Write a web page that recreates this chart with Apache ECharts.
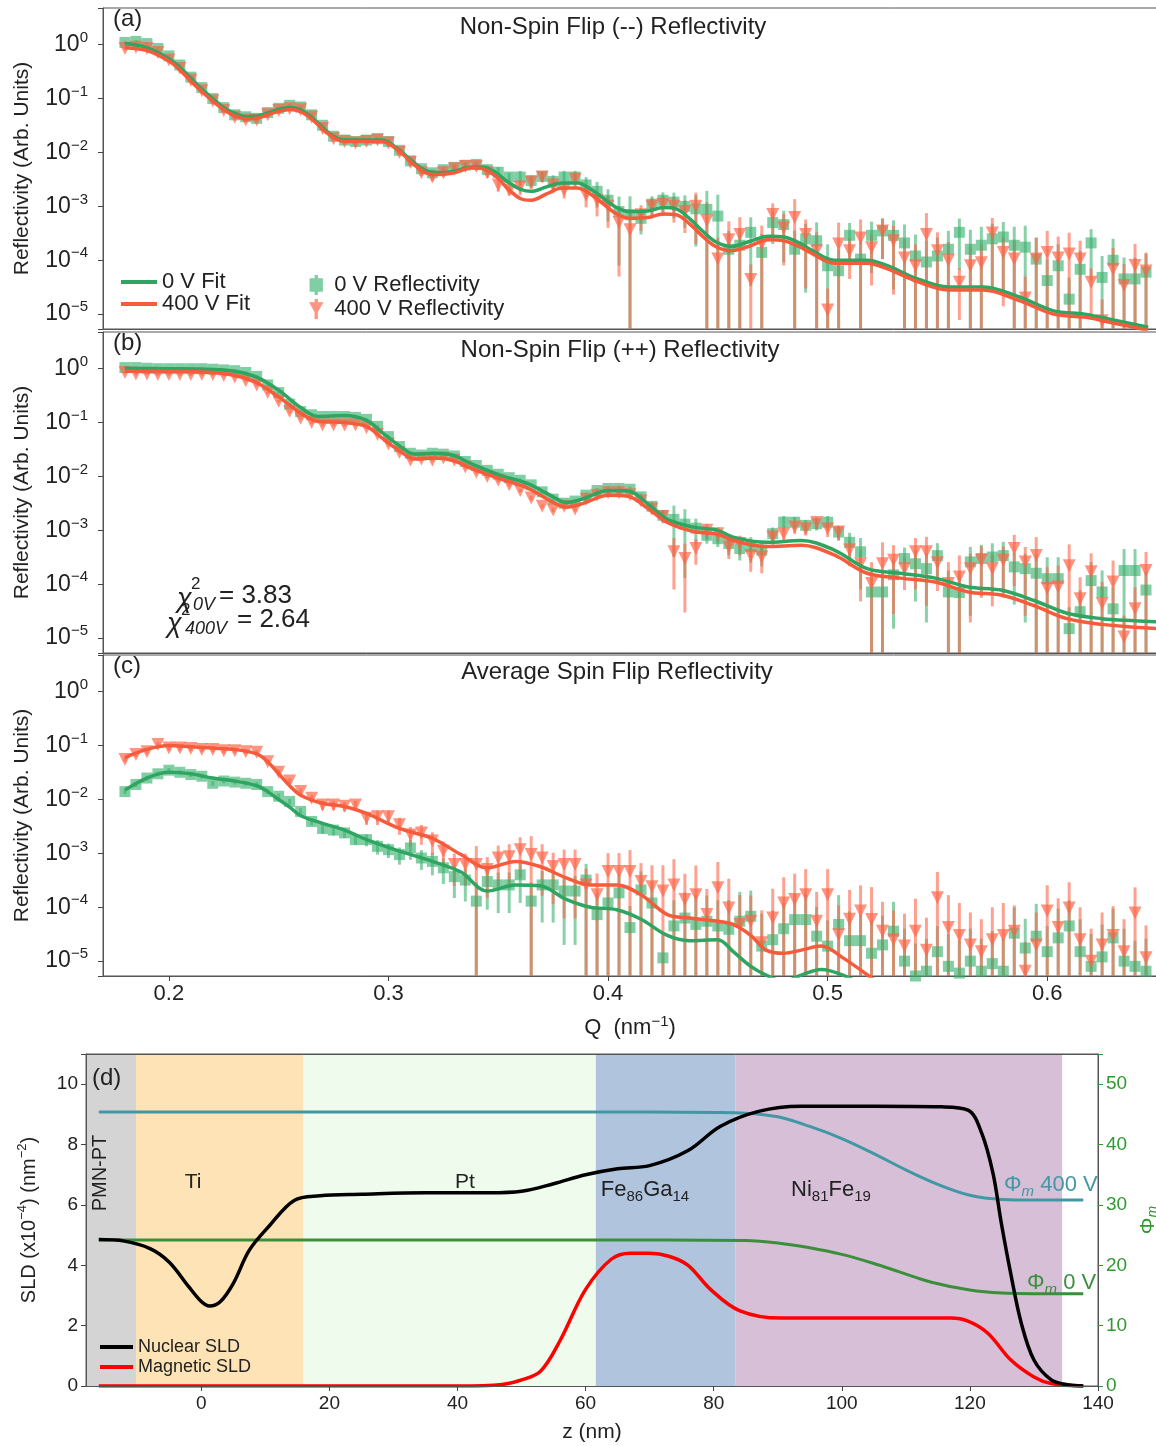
<!DOCTYPE html>
<html>
<head>
<meta charset="utf-8">
<script src="https://cdn.jsdelivr.net/npm/echarts@6/dist/echarts.min.js"></script>
<style>
  html, body { margin: 0; background: #fff; }
  #chart { width: 1156px; height: 1446px; }
</style>
</head>
<body>
<div id="chart"></div>
<script>
// Q grid shared by all three reflectivity panels (nm^-1)
const qData = [
  0.180, 0.185, 0.190, 0.195, 0.200, 0.205, 0.210, 0.215, 0.220, 0.225,
  0.230, 0.235, 0.240, 0.245, 0.250, 0.255, 0.260, 0.265, 0.270, 0.275,
  0.280, 0.285, 0.290, 0.295, 0.300, 0.305, 0.310, 0.315, 0.320, 0.325,
  0.330, 0.335, 0.340, 0.345, 0.350, 0.355, 0.360, 0.365, 0.370, 0.375,
  0.380, 0.385, 0.390, 0.395, 0.400, 0.405, 0.410, 0.415, 0.420, 0.425,
  0.430, 0.435, 0.440, 0.445, 0.450, 0.455, 0.460, 0.465, 0.470, 0.475,
  0.480, 0.485, 0.490, 0.495, 0.500, 0.505, 0.510, 0.515, 0.520, 0.525,
  0.530, 0.535, 0.540, 0.545, 0.550, 0.555, 0.560, 0.565, 0.570, 0.575,
  0.580, 0.585, 0.590, 0.595, 0.600, 0.605, 0.610, 0.615, 0.620, 0.625,
  0.630, 0.635, 0.640, 0.645
];

// (a) non spin flip (--)
const refA0 = [
  1.1, 1.15, 1.05, 0.85, 0.62, 0.42, 0.25, 0.16, 0.1, 0.068,
  0.05, 0.046, 0.043, 0.055, 0.066, 0.075, 0.07, 0.05, 0.032, 0.02,
  0.017, 0.016, 0.017, 0.018, 0.016, 0.011, 0.007, 0.005, 0.0042, 0.0048,
  0.0053, 0.0058, 0.006, 0.0048, 0.0043, 0.0035, 0.0035, 0.003, 0.0036, 0.0029,
  0.0035, 0.0035, 0.0025, 0.0019, 0.0013, 0.0008, 0.0007, 0.0006, 0.0011, 0.0013,
  0.0012, 0.001, 0.0009, 0.00088, 0.00066, 1.6e-4, 1.9e-4, 3.3e-4, 1.4e-4, 5e-4,
  4.6e-4, 1.6e-4, 2.5e-4, 2.3e-4, 7.9e-5, 6.4e-5, 2.9e-4, 1.05e-4, 2.9e-4, 3.5e-4,
  2.9e-4, 2.1e-4, 1.2e-4, 9.3e-5, 1.2e-4, 1.6e-4, 3.3e-4, 1.6e-4, 1.9e-4, 2.5e-4,
  2.7e-4, 1.9e-4, 1.75e-4, 1.05e-4, 4.2e-5, 7.9e-5, 1.9e-5, 6.8e-5, 2.1e-4, 4.8e-5,
  1e-4, 4.5e-5, 4.5e-5, 6e-5
];
const refA400 = [
  0.85, 0.9, 0.85, 0.72, 0.52, 0.36, 0.22, 0.14, 0.09, 0.06,
  0.045, 0.04, 0.04, 0.05, 0.06, 0.065, 0.062, 0.045, 0.028, 0.018,
  0.016, 0.015, 0.016, 0.017, 0.015, 0.01, 0.0065, 0.0042, 0.0035, 0.0042,
  0.005, 0.0055, 0.0055, 0.0042, 0.0025, 0.002, 0.0023, 0.0028, 0.0035, 0.0025,
  0.002, 0.0032, 0.0016, 0.0013, 0.001, 0.0005, 0.00037, 0.0007, 0.001, 0.0011,
  0.001, 0.0008, 0.001, 0.00054, 1.05e-4, 2.4e-4, 3e-4, 4.4e-5, 2e-4, 7.1e-4,
  4e-4, 6.2e-4, 3e-4, 1.5e-4, 1.2e-5, 2e-4, 1.5e-4, 2.6e-4, 1.7e-4, 3.5e-4,
  2.3e-4, 1.1e-4, 7.9e-5, 3e-4, 1.5e-4, 1e-4, 3.9e-5, 7.9e-5, 9e-5, 3.2e-4,
  1.4e-4, 1.05e-4, 2e-5, 1.05e-4, 1.4e-4, 1.1e-4, 1.3e-4, 1.05e-4, 3.9e-5, 7.5e-6,
  6.8e-5, 3.4e-5, 8e-5, 6.3e-5
];
// relative error (sigma / R)
const errA = [
  0.06, 0.06, 0.06, 0.06, 0.06, 0.06, 0.06, 0.06, 0.06, 0.06,
  0.07, 0.07, 0.07, 0.07, 0.07, 0.07, 0.07, 0.07, 0.08, 0.08,
  0.08, 0.08, 0.08, 0.08, 0.1, 0.1, 0.12, 0.12, 0.15, 0.15,
  0.15, 0.15, 0.15, 0.2, 0.25, 0.2, 0.3, 0.25, 0.2, 0.3,
  0.3, 0.3, 0.4, 0.5, 0.6, 0.9, 1.2, 0.5, 0.4, 0.4,
  0.5, 0.6, 0.8, 1.2, 1.5, 1.2, 1.1, 0.9, 1.2, 0.6,
  0.8, 1.2, 0.9, 1.2, 1.5, 1.5, 0.7, 1.2, 0.8, 0.7,
  0.9, 1.2, 1.5, 1.5, 1.2, 1.2, 0.8, 1.3, 1.2, 0.9,
  0.9, 1.2, 1.5, 1.5, 1.5, 1.5, 1.5, 1.2, 0.8, 1.5,
  1.5, 1.5, 1.5, 1.2
];
const fitQA = [
  0.18, 0.19, 0.2, 0.205, 0.21, 0.215, 0.22, 0.225, 0.23, 0.235,
  0.24, 0.245, 0.25, 0.255, 0.26, 0.265, 0.27, 0.275, 0.28, 0.29,
  0.297, 0.305, 0.311, 0.317, 0.323, 0.33, 0.338, 0.343, 0.349, 0.354,
  0.36, 0.365, 0.372, 0.379, 0.386, 0.392, 0.398, 0.404, 0.41, 0.418,
  0.425, 0.431, 0.437, 0.443, 0.449, 0.456, 0.464, 0.473, 0.48, 0.487,
  0.492, 0.503, 0.518, 0.527, 0.541, 0.555, 0.571, 0.587, 0.603, 0.617,
  0.629, 0.646
];
const fitA0 = [
  1.05, 0.88, 0.55, 0.38, 0.24, 0.15, 0.1, 0.068, 0.053, 0.046,
  0.047, 0.054, 0.063, 0.068, 0.062, 0.045, 0.029, 0.02, 0.017, 0.017,
  0.017, 0.011, 0.0068, 0.0046, 0.0042, 0.0045, 0.0054, 0.0054, 0.0042, 0.0029,
  0.0021, 0.0019, 0.0023, 0.0027, 0.0027, 0.0021, 0.0014, 0.00095, 0.0008, 0.00082,
  0.00095, 0.0009, 0.0006, 0.00035, 0.00022, 0.00018, 0.00022, 0.00028, 0.00027, 0.00021,
  0.00016, 1e-4, 1e-4, 8e-5, 4.5e-5, 3.2e-5, 3.2e-5, 2.1e-5, 1.15e-5, 1e-5,
  8e-6, 5.7e-6
];
const fitA400 = [
  0.88, 0.78, 0.5, 0.34, 0.21, 0.135, 0.09, 0.062, 0.048, 0.042,
  0.043, 0.05, 0.058, 0.063, 0.057, 0.042, 0.027, 0.019, 0.016, 0.016,
  0.016, 0.0105, 0.0063, 0.0042, 0.0039, 0.0042, 0.0052, 0.005, 0.0036, 0.0022,
  0.0014, 0.0013, 0.0017, 0.0022, 0.0022, 0.0017, 0.0011, 0.00072, 0.0006, 0.00062,
  0.00072, 0.0007, 0.00048, 0.00028, 0.00018, 0.00015, 0.00018, 0.00024, 0.00023, 0.00018,
  0.00014, 8.8e-5, 8.8e-5, 7e-5, 4e-5, 2.8e-5, 2.8e-5, 1.8e-5, 1e-5, 8.8e-6,
  7e-6, 5e-6
];

// (b) non spin flip (++)
const refB0 = [
  1.05, 1.05, 1.02, 1.0, 1.0, 1.0, 1.0, 1.0, 0.98, 0.95,
  0.92, 0.85, 0.72, 0.5, 0.36, 0.22, 0.16, 0.14, 0.13, 0.13,
  0.13, 0.125, 0.115, 0.085, 0.055, 0.036, 0.027, 0.025, 0.027, 0.026,
  0.024, 0.019, 0.016, 0.013, 0.011, 0.0095, 0.0085, 0.007, 0.0052, 0.0038,
  0.0032, 0.0035, 0.0045, 0.0055, 0.006, 0.006, 0.0058, 0.0042, 0.0028, 0.0019,
  0.0016, 0.0013, 0.0011, 8.1e-4, 7e-4, 5.7e-4, 4.6e-4, 5e-4, 4.3e-4, 8.7e-4,
  1.42e-3, 1.42e-3, 1.24e-3, 1.33e-3, 1.42e-3, 9.3e-4, 6e-4, 4e-4, 7.2e-5, 7.2e-5,
  1.5e-4, 3e-4, 2.4e-4, 1.95e-4, 3.4e-4, 7.2e-5, 7e-5, 2.6e-4, 3e-4, 3.2e-4,
  3.4e-4, 2.1e-4, 1.95e-4, 1.6e-4, 1.27e-4, 1.27e-4, 1.5e-5, 3.1e-5, 1.17e-4, 7.2e-5,
  3.5e-5, 1.8e-4, 1.8e-4, 7.8e-5
];
const refB400 = [
  0.85, 0.8, 0.8, 0.78, 0.78, 0.78, 0.78, 0.78, 0.78, 0.75,
  0.7, 0.6, 0.5, 0.36, 0.25, 0.16, 0.12, 0.1, 0.09, 0.09,
  0.09, 0.09, 0.08, 0.06, 0.04, 0.028, 0.02, 0.021, 0.02, 0.022,
  0.02, 0.015, 0.012, 0.01, 0.0085, 0.007, 0.0055, 0.004, 0.0028, 0.0024,
  0.0028, 0.0025, 0.0038, 0.0045, 0.005, 0.005, 0.0046, 0.0035, 0.0025, 0.0018,
  4e-4, 3e-4, 4.6e-4, 1e-3, 8.7e-4, 4.9e-4, 5.7e-4, 3.4e-4, 3.2e-4, 7.5e-4,
  8.7e-4, 1.15e-3, 1.07e-3, 1.4e-3, 1.07e-3, 9.3e-4, 4.3e-4, 2.4e-4, 1.03e-4, 2.4e-4,
  2.8e-4, 1.95e-4, 4e-4, 4e-4, 2.5e-4, 1.03e-4, 1.37e-4, 1.95e-4, 2.8e-4, 1.95e-4,
  2.8e-4, 4.6e-4, 2.6e-4, 3.4e-4, 8.3e-5, 8.9e-5, 2.2e-4, 5.4e-5, 1.7e-4, 4.4e-5,
  1.1e-4, 1.05e-5, 3.5e-5, 1.8e-4
];
const errB = [
  0.05, 0.05, 0.05, 0.05, 0.05, 0.05, 0.05, 0.05, 0.05, 0.05,
  0.05, 0.05, 0.05, 0.05, 0.05, 0.05, 0.05, 0.05, 0.05, 0.05,
  0.05, 0.05, 0.05, 0.05, 0.05, 0.05, 0.05, 0.05, 0.05, 0.05,
  0.06, 0.06, 0.06, 0.07, 0.07, 0.07, 0.08, 0.08, 0.08, 0.1,
  0.1, 0.1, 0.1, 0.1, 0.1, 0.12, 0.12, 0.15, 0.2, 0.25,
  0.8, 0.9, 0.5, 0.3, 0.3, 0.4, 0.4, 0.5, 0.5, 0.3,
  0.3, 0.25, 0.25, 0.25, 0.3, 0.3, 0.5, 0.8, 1.5, 1.5,
  0.9, 0.6, 0.8, 0.9, 0.7, 1.5, 1.5, 0.9, 0.8, 0.8,
  0.8, 0.8, 0.9, 1.2, 1.5, 1.5, 1.5, 1.5, 1.2, 1.5,
  1.5, 1.5, 1.5, 1.2
];
const fitQB = [
  0.18, 0.2, 0.22, 0.23, 0.24, 0.25, 0.26, 0.268, 0.28, 0.29,
  0.297, 0.305, 0.312, 0.32, 0.329, 0.338, 0.351, 0.363, 0.375, 0.381,
  0.389, 0.4, 0.409, 0.419, 0.427, 0.439, 0.45, 0.457, 0.472, 0.488,
  0.503, 0.518, 0.533, 0.549, 0.564, 0.579, 0.594, 0.609, 0.625, 0.64,
  0.65
];
const fitB0 = [
  1.02, 1.0, 0.97, 0.9, 0.7, 0.4, 0.19, 0.13, 0.135, 0.11,
  0.066, 0.037, 0.026, 0.027, 0.025, 0.017, 0.0105, 0.0075, 0.0042, 0.0033,
  0.0039, 0.0055, 0.0054, 0.0029, 0.0016, 0.00115, 0.001, 0.00075, 0.0006, 0.00065,
  0.00043, 1.95e-4, 1.6e-4, 1.3e-4, 8.9e-5, 7.8e-5, 5e-5, 2.9e-5, 2.3e-5, 2.1e-5,
  2e-5
];
const fitB400 = [
  0.9, 0.9, 0.85, 0.75, 0.55, 0.3, 0.15, 0.105, 0.1, 0.085,
  0.052, 0.03, 0.021, 0.022, 0.02, 0.014, 0.009, 0.0062, 0.0033, 0.0027,
  0.0032, 0.0045, 0.0043, 0.0024, 0.0014, 0.00095, 0.00085, 0.00065, 0.0005, 0.00053,
  0.00035, 1.6e-4, 1.3e-4, 1.1e-4, 7.2e-5, 6.3e-5, 4e-5, 2.3e-5, 1.8e-5, 1.6e-5,
  1.5e-5
];

// (c) average spin flip
const refC0 = [
  0.014, 0.019, 0.025, 0.03, 0.035, 0.032, 0.029, 0.027, 0.02, 0.022,
  0.021, 0.02, 0.019, 0.014, 0.0115, 0.0092, 0.006, 0.0039, 0.0029, 0.0027,
  0.0024, 0.0018, 0.0018, 0.00135, 0.00117, 0.00095, 0.00126, 0.00082, 0.00071, 0.00054,
  3.7e-4, 3.2e-4, 1.3e-4, 3e-4, 2.6e-4, 2.6e-4, 4e-4, 1.3e-4, 2.6e-4, 2.6e-4,
  2e-4, 2e-4, 3.2e-4, 7.3e-5, 1.2e-4, 1.85e-4, 4.2e-5, 2.1e-4, 1.2e-4, 1.15e-5,
  4.5e-5, 6.3e-5, 4.8e-5, 5.5e-5, 4.5e-5, 3.9e-5, 5.5e-5, 6.8e-5, 1.9e-5, 2.5e-5,
  4e-5, 5.9e-5, 5.9e-5, 2.9e-5, 1.9e-5, 4.8e-5, 2.4e-5, 2.4e-5, 1.4e-5, 2e-5,
  3.6e-5, 1e-5, 5.3e-6, 6.5e-6, 1.5e-5, 8e-6, 6e-6, 1e-5, 6.5e-6, 9e-6,
  6.5e-6, 3.3e-5, 1.75e-5, 2.9e-5, 1.5e-5, 2.7e-5, 4.5e-5, 1.5e-5, 8e-6, 1.2e-5,
  2.7e-5, 1e-5, 8e-6, 6.5e-6
];
const refC400 = [
  0.055, 0.068, 0.077, 0.105, 0.09, 0.09, 0.088, 0.085, 0.085, 0.08,
  0.08, 0.077, 0.075, 0.05, 0.032, 0.022, 0.014, 0.0105, 0.0079, 0.0079,
  0.0075, 0.0079, 0.0045, 0.0048, 0.0048, 0.0034, 0.0022, 0.0024, 0.0017, 0.0011,
  6.2e-4, 6.2e-4, 6.2e-4, 5e-4, 8.2e-4, 8.7e-4, 1.17e-3, 9.5e-4, 8.2e-4, 5.7e-4,
  6.2e-4, 6.2e-4, 2.6e-4, 1.7e-4, 4.6e-4, 4.6e-4, 4.6e-4, 3e-4, 2.4e-4, 2e-4,
  2.6e-4, 1.4e-4, 1.7e-4, 7.3e-5, 2.3e-4, 9.7e-5, 4.8e-5, 5.5e-5, 2.2e-5, 6.3e-5,
  1.2e-4, 1.4e-4, 1.7e-4, 5.5e-5, 1.7e-4, 3.1e-5, 6e-5, 8.5e-5, 5.9e-5, 3.6e-5,
  2.5e-5, 1.9e-5, 3.6e-5, 1.6e-5, 1.5e-4, 4.2e-5, 3e-5, 2e-5, 1.5e-5, 2.5e-5,
  3e-5, 3.6e-5, 6.5e-6, 2e-5, 8.5e-5, 4.2e-5, 9.7e-5, 2.5e-5, 1e-5, 2e-5,
  3e-5, 1.5e-5, 7.8e-5, 1.15e-5
];
const errC = [
  0.1, 0.1, 0.1, 0.1, 0.1, 0.1, 0.1, 0.1, 0.1, 0.1,
  0.1, 0.1, 0.1, 0.1, 0.12, 0.12, 0.15, 0.15, 0.2, 0.2,
  0.2, 0.2, 0.25, 0.3, 0.3, 0.35, 0.4, 0.4, 0.45, 0.5,
  0.6, 0.6, 1.2, 0.7, 0.7, 0.7, 0.7, 1.2, 0.8, 0.8,
  0.9, 0.9, 1.0, 1.5, 1.2, 1.2, 1.5, 1.2, 1.5, 2,
  2, 2, 2.5, 2, 2, 2.5, 2.5, 2, 3, 2.5,
  2, 2, 2, 2.5, 2, 2.5, 2.5, 2, 3, 2.5,
  2.5, 3, 3, 3, 2, 3, 3, 3, 3, 3,
  3, 2, 2.5, 3, 2, 2.5, 2, 3, 3, 3,
  2.5, 3, 2, 3
];
const fitQC = [
  0.18, 0.19, 0.2, 0.21, 0.22, 0.23, 0.24, 0.245, 0.25, 0.255,
  0.26, 0.27, 0.28, 0.29, 0.305, 0.32, 0.333, 0.345, 0.358, 0.369,
  0.381, 0.392, 0.404, 0.415, 0.427, 0.437, 0.45, 0.457, 0.465, 0.472,
  0.48, 0.488, 0.497, 0.507, 0.52, 0.53
];
const fitC0 = [
  0.015, 0.025, 0.032, 0.03, 0.025, 0.022, 0.018, 0.014, 0.01, 0.0072,
  0.005, 0.0036, 0.0027, 0.0018, 0.0011, 0.00071, 0.00045, 0.0002, 0.00026, 0.00025,
  0.00014, 1e-4, 9e-5, 6e-5, 3e-5, 2.4e-5, 2.5e-5, 1.5e-5, 8e-6, 5.5e-6,
  4.2e-6, 5.5e-6, 7e-6, 5.5e-6, 3e-6, 2e-6
];
const fitC400 = [
  0.06, 0.085, 0.1, 0.095, 0.09, 0.085, 0.07, 0.05, 0.03, 0.018,
  0.012, 0.0085, 0.0074, 0.0055, 0.0029, 0.0019, 0.00095, 0.00054, 0.00071, 0.00057,
  0.00035, 0.00026, 0.00026, 0.00017, 7.3e-5, 6.3e-5, 5.5e-5, 4.8e-5, 3e-5, 1.6e-5,
  1.4e-5, 1.6e-5, 1.9e-5, 1.15e-5, 4.9e-6, 2.5e-6
];

// (d) depth profile
const zNuc = [-16, -12, -8, -5, -2, 0, 1.3, 3, 5, 7.5, 10.6, 14.5, 18.5, 25, 35, 45, 50, 55, 60, 65,
  70, 76, 81, 87, 93.6, 105, 115.5, 119.7, 121.8, 123.6, 124.9, 126.4, 128, 130, 132.7, 135, 137.7];
const sldNuc = [4.85, 4.8, 4.55, 4.1, 3.3, 2.8, 2.65, 2.8, 3.4, 4.5, 5.3, 6.15, 6.3, 6.35, 6.4, 6.4, 6.45, 6.7, 7.0, 7.2,
  7.3, 7.8, 8.6, 9.1, 9.27, 9.27, 9.25, 9.14, 8.4, 7.05, 5.4, 3.7, 2.1, 0.86, 0.2, 0.05, 0.0];
const zMag = [-16, 40, 47, 50, 53, 56, 60, 64, 67, 70, 73, 76, 79.5, 84, 90.5, 100, 110, 117, 119.7, 122.8, 126.4, 130, 132.7, 137.7];
const sldMag = [0, 0, 0.05, 0.2, 0.5, 1.5, 3.2, 4.2, 4.4, 4.4, 4.3, 4.0, 3.2, 2.5, 2.25, 2.25, 2.25, 2.25, 2.15, 1.75, 0.86, 0.3, 0.08, 0];
const zPhi400 = [-16, 20, 60, 80, 85, 90, 95, 100, 105, 110, 115, 120, 125, 130, 137.7];
const phi400 = [45.4, 45.4, 45.4, 45.3, 45.2, 44.6, 43, 41, 38.5, 35.8, 33.4, 31.6, 30.9, 30.8, 30.8];
const zPhi0 = [-16, 60, 85, 90, 95, 100, 105, 109, 114, 120, 125, 130, 137.7];
const phi0 = [24.2, 24.2, 24.1, 23.7, 22.9, 21.8, 20.3, 18.9, 17.2, 15.9, 15.4, 15.3, 15.3];
const layerEdges = [-18, -10.2, 15.9, 61.6, 83.4, 134.4];
const layerColors = ['#d4d4d4', '#fde3b5', '#effbec', '#b0c4de', '#d8bfd8'];

const FONT = "'Liberation Sans', Arial, sans-serif";
const R_MIN = 5.3e-6, R_MAX = 4.8;
const GREEN_PT = 'rgba(60,179,113,0.8)';
const RED_PT = 'rgba(255,99,71,0.85)';
const GREEN_BAR = 'rgba(60,179,113,0.6)';
const RED_BAR = 'rgba(255,99,71,0.6)';
const GREEN_FIT = '#2ea560';
const RED_FIT = '#f65b3b';
const TEAL = '#4198a4';
const PHI_GREEN = '#3b8f3b';
const AXIS_GREEN = '#2f9a2f';

const pairs = (xs, ys) => xs.map((x, i) => [x, ys[i]]);
const bars = (xs, ys, es) => xs.map((x, i) => [x, Math.max(ys[i] * (1 - es[i]), R_MIN), ys[i] * (1 + es[i])]);

function powLabel(v) {
  const e = Math.log10(v), r = Math.round(e);
  if (Math.abs(e - r) > 1e-6) return '';
  return '{b|10}{s|' + (r < 0 ? '\u2212' + (-r) : r) + '}';
}

const supRich = {
  b: { fontSize: 23, lineHeight: 29, color: '#222', fontFamily: FONT },
  s: { fontSize: 15, lineHeight: 15, verticalAlign: 'top', color: '#222', fontFamily: FONT }
};
const qNameRich = {
  b: { fontSize: 22, lineHeight: 28, color: '#222', fontFamily: FONT },
  s: { fontSize: 15, lineHeight: 15, verticalAlign: 'top', color: '#222', fontFamily: FONT }
};

function errorSeries(gi, data, color) {
  return {
    type: 'custom', xAxisIndex: gi, yAxisIndex: gi, silent: true, z: 2,
    data: data,
    renderItem: function (params, api) {
      const top = api.coord([api.value(0), api.value(2)]);
      const bot = api.coord([api.value(0), api.value(1)]);
      return {
        type: 'line',
        shape: { x1: top[0], y1: Math.max(top[1], params.coordSys.y), x2: bot[0], y2: bot[1] },
        style: { stroke: color, lineWidth: 3 }
      };
    }
  };
}

function pointSeries(gi, name, q, r, symbol, size, rotate, color) {
  return {
    type: 'scatter', name: name, xAxisIndex: gi, yAxisIndex: gi, silent: true, z: 3,
    data: pairs(q, r), symbol: symbol, symbolSize: size, symbolRotate: rotate,
    itemStyle: { color: color }
  };
}

function fitSeries(gi, name, q, r, color) {
  return {
    type: 'line', name: name, xAxisIndex: gi, yAxisIndex: gi, silent: true, z: 4,
    data: pairs(q, r), symbol: 'none', smooth: 0.35,
    lineStyle: { color: color, width: 3.5 }, itemStyle: { color: color }
  };
}

function panelSeries(gi, r0, r400, err, fq, f0, f400) {
  return [
    errorSeries(gi, bars(qData, r0, err), GREEN_BAR),
    errorSeries(gi, bars(qData, r400, err), RED_BAR),
    pointSeries(gi, '0 V Reflectivity', qData, r0, 'rect', 11, 0, GREEN_PT),
    pointSeries(gi, '400 V Reflectivity', qData, r400, 'triangle', 13, 180, RED_PT),
    fitSeries(gi, '0 V Fit', fq, f0, GREEN_FIT),
    fitSeries(gi, '400 V Fit', fq, f400, RED_FIT)
  ];
}

const gridBox = { show: true, borderColor: '#555', borderWidth: 1, backgroundColor: 'transparent', outerBoundsMode: 'none', containLabel: false };
const axisLineDark = { show: true, onZero: false, lineStyle: { color: '#555', width: 1 } };
const tickDark = { show: true, length: 5, lineStyle: { color: '#444' } };

function qAxis(gi, showLabels) {
  const ax = {
    type: 'value', gridIndex: gi, min: 0.170, max: 0.65,
    splitLine: { show: false }, axisLine: axisLineDark,
    axisTick: showLabels ? tickDark : { show: false },
    axisLabel: showLabels
      ? { margin: 7, showMinLabel: false, showMaxLabel: false, fontSize: 22, color: '#222', fontFamily: FONT }
      : { show: false }
  };
  if (showLabels) {
    ax.name = '{b|Q  (nm}{s|\u22121}{b|)}';
    ax.nameLocation = 'middle';
    ax.nameGap = 38;
    ax.nameTextStyle = { rich: qNameRich };
  }
  return ax;
}

function rAxis(gi) {
  return {
    type: 'log', logBase: 10, gridIndex: gi, min: R_MIN, max: R_MAX,
    splitLine: { show: false }, axisLine: axisLineDark, axisTick: tickDark,
    axisLabel: { formatter: powLabel, rich: supRich, margin: 15 },
    name: 'Reflectivity (Arb. Units)', nameLocation: 'middle', nameGap: 70, nameRotate: 90,
    nameTextStyle: { fontSize: 21, color: '#222', fontFamily: FONT }
  };
}

function txt(x, y, text, size, extra, rotation) {
  const style = Object.assign({
    text: text, x: 0, y: 0, fill: '#222', font: size + 'px ' + FONT,
    textAlign: 'left', align: 'left', textVerticalAlign: 'middle', verticalAlign: 'middle'
  }, extra || {});
  return { type: 'text', x: x, y: y, rotation: rotation || 0, silent: true, z: 100, style: style };
}
const centered = { textAlign: 'center', align: 'center' };

const subRich = (color) => ({
  n: { fontSize: 22, lineHeight: 28, fill: color, color: color, fontFamily: FONT },
  s: { fontSize: 15, lineHeight: 15, verticalAlign: 'bottom', fill: color, color: color, fontFamily: FONT },
  i: { fontSize: 15, lineHeight: 15, verticalAlign: 'bottom', fontStyle: 'italic', fill: color, color: color, fontFamily: FONT }
});

const layerData = layerColors.map((c, i) => [layerEdges[i], layerEdges[i + 1], i]);

// legend icons: square / down-triangle with a short error bar through them
const ICON_SQ = 'path://M4.5,-3h3v18h-3z M0,0h12v12h-12z';
const ICON_TRI = 'path://M5,-3h3v18h-3z M0,0h13l-6.5,11.5z';

const chart = echarts.init(document.getElementById('chart'), null, { renderer: 'canvas' });
chart.setOption({
  animation: false,
  backgroundColor: '#fff',
  textStyle: { fontFamily: FONT },
  grid: [
    Object.assign({ left: 103, top: 8, width: 1054, height: 321 }, gridBox),
    Object.assign({ left: 103, top: 332, width: 1054, height: 321 }, gridBox),
    Object.assign({ left: 103, top: 655, width: 1054, height: 321 }, gridBox),
    Object.assign({ left: 86, top: 1054, width: 1012, height: 332 }, gridBox)
  ],
  xAxis: [
    qAxis(0, false),
    qAxis(1, false),
    qAxis(2, true),
    {
      type: 'value', gridIndex: 3, min: -18, max: 140, splitNumber: 8, z: 10,
      splitLine: { show: false }, axisLine: axisLineDark, axisTick: tickDark,
      axisLabel: { margin: 8, showMinLabel: false, fontSize: 19, color: '#222', fontFamily: FONT },
      name: 'z (nm)', nameLocation: 'middle', nameGap: 36,
      nameTextStyle: { fontSize: 21, color: '#222', fontFamily: FONT }
    },
    {
      type: 'value', gridIndex: 3, position: 'top', min: -18, max: 140, z: 10,
      splitLine: { show: false }, axisLine: axisLineDark, axisTick: { show: false }, axisLabel: { show: false }
    }
  ],
  yAxis: [
    rAxis(0), rAxis(1), rAxis(2),
    {
      type: 'value', gridIndex: 3, min: 0, max: 11, interval: 2, z: 10,
      splitLine: { show: false }, axisLine: axisLineDark, axisTick: tickDark,
      axisLabel: { margin: 8, fontSize: 19, color: '#222', fontFamily: FONT, formatter: v => (v % 2 === 0 ? String(v) : '') },
      name: '{b|SLD (x10}{s|\u22124}{b|) (nm}{s|\u22122}{b|)}', nameLocation: 'middle', nameGap: 44, nameRotate: 90,
      nameTextStyle: { rich: {
        b: { fontSize: 20, lineHeight: 26, color: '#222', fontFamily: FONT },
        s: { fontSize: 13, lineHeight: 13, verticalAlign: 'top', color: '#222', fontFamily: FONT }
      } }
    },
    {
      type: 'value', gridIndex: 3, position: 'right', min: 0, max: 55, interval: 10, z: 10,
      splitLine: { show: false }, axisLine: axisLineDark,
      axisTick: { show: true, length: 5, lineStyle: { color: AXIS_GREEN } },
      axisLabel: { margin: 8, fontSize: 19, color: AXIS_GREEN, fontFamily: FONT, formatter: v => (v % 10 === 0 ? String(v) : '') },
      name: '{n|\u03A6}{s|m}', nameLocation: 'middle', nameGap: 22, nameRotate: 90,
      nameTextStyle: { rich: {
        n: { fontSize: 21, lineHeight: 24, color: AXIS_GREEN, fontFamily: FONT },
        s: { fontSize: 14, lineHeight: 14, verticalAlign: 'bottom', fontStyle: 'italic', color: AXIS_GREEN, fontFamily: FONT }
      } }
    }
  ],
  legend: [
    {
      data: [{ name: '0 V Fit', icon: 'rect' }, { name: '400 V Fit', icon: 'rect' }],
      orient: 'vertical', left: 116, top: 266,
      itemWidth: 36, itemHeight: 4, itemGap: 0, selectedMode: false,
      textStyle: { fontSize: 22, lineHeight: 22, color: '#222', fontFamily: FONT }
    },
    {
      data: [{ name: '0 V Reflectivity', icon: ICON_SQ }, { name: '400 V Reflectivity', icon: ICON_TRI }],
      orient: 'vertical', left: 304, top: 269,
      itemWidth: 26, itemHeight: 20, itemGap: 2, selectedMode: false,
      textStyle: { fontSize: 22, lineHeight: 20, color: '#222', fontFamily: FONT }
    },
    {
      data: [{ name: 'Nuclear SLD', icon: 'rect' }, { name: 'Magnetic SLD', icon: 'rect' }],
      orient: 'vertical', left: 95, top: 1332,
      itemWidth: 33, itemHeight: 4, itemGap: 0, selectedMode: false,
      textStyle: { fontSize: 18, lineHeight: 20, color: '#222', fontFamily: FONT }
    }
  ],
  series: [
    ...panelSeries(0, refA0, refA400, errA, fitQA, fitA0, fitA400),
    ...panelSeries(1, refB0, refB400, errB, fitQB, fitB0, fitB400),
    ...panelSeries(2, refC0, refC400, errC, fitQC, fitC0, fitC400),
    {
      type: 'custom', xAxisIndex: 3, yAxisIndex: 3, silent: true, z: 1,
      data: layerData,
      renderItem: function (params, api) {
        const p0 = api.coord([api.value(0), 11]);
        const p1 = api.coord([api.value(1), 0]);
        return {
          type: 'rect',
          shape: { x: p0[0], y: p0[1] + 1, width: p1[0] - p0[0], height: p1[1] - p0[1] - 1 },
          style: { fill: layerColors[api.value(2)] }
        };
      }
    },
    {
      type: 'line', name: '\u03A6m 400 V', xAxisIndex: 3, yAxisIndex: 4, silent: true, z: 3,
      data: pairs(zPhi400, phi400), symbol: 'none', smooth: 0.35,
      lineStyle: { color: TEAL, width: 3 }
    },
    {
      type: 'line', name: '\u03A6m 0 V', xAxisIndex: 3, yAxisIndex: 4, silent: true, z: 3,
      data: pairs(zPhi0, phi0), symbol: 'none', smooth: 0.35,
      lineStyle: { color: PHI_GREEN, width: 3 }
    },
    {
      type: 'line', name: 'Magnetic SLD', xAxisIndex: 3, yAxisIndex: 3, silent: true, z: 4,
      data: pairs(zMag, sldMag), symbol: 'none', smooth: 0.35,
      lineStyle: { color: '#ff0000', width: 3.5 }, itemStyle: { color: '#ff0000' }
    },
    {
      type: 'line', name: 'Nuclear SLD', xAxisIndex: 3, yAxisIndex: 3, silent: true, z: 5,
      data: pairs(zNuc, sldNuc), symbol: 'none', smooth: 0.35,
      lineStyle: { color: '#000', width: 3.5 }, itemStyle: { color: '#000' }
    }
  ],
  graphic: [
    txt(113, 19, '(a)', 24),
    txt(613, 27, 'Non-Spin Flip (--) Reflectivity', 24, centered),
    txt(113, 343, '(b)', 24),
    txt(620, 350, 'Non-Spin Flip (++) Reflectivity', 24, centered),
    txt(113, 666, '(c)', 24),
    txt(617, 672, 'Average Spin Flip Reflectivity', 24, centered),
    // chi-squared annotation
    txt(177, 599, '\u03C7', 27, { font: 'italic 27px ' + FONT }),
    txt(191, 584, '2', 17),
    txt(193, 605, '0V', 18, { font: 'italic 18px ' + FONT }),
    txt(219, 596, '= 3.83', 26),
    txt(167, 624, '\u03C7', 27, { font: 'italic 27px ' + FONT }),
    txt(181, 610, '2', 17),
    txt(185, 629, '400V', 18, { font: 'italic 18px ' + FONT }),
    txt(237, 620, '= 2.64', 26),
    // depth-profile labels
    txt(92, 1078, '(d)', 24),
    txt(100, 1173, 'PMN-PT', 20, centered, Math.PI / 2),
    txt(193, 1182, 'Ti', 21, centered),
    txt(465, 1182, 'Pt', 21, centered),
    txt(645, 1190, '{n|Fe}{s|86}{n|Ga}{s|14}', 22, Object.assign({ rich: subRich('#222') }, centered)),
    txt(831, 1190, '{n|Ni}{s|81}{n|Fe}{s|19}', 22, Object.assign({ rich: subRich('#222') }, centered)),
    txt(1004, 1185, '{n|\u03A6}{i|m}{n| 400 V}', 21, { rich: subRich(TEAL), fill: TEAL }),
    txt(1027, 1283, '{n|\u03A6}{i|m}{n| 0 V}', 21, { rich: subRich(PHI_GREEN), fill: PHI_GREEN })
  ]
});
</script>
</body>
</html>
